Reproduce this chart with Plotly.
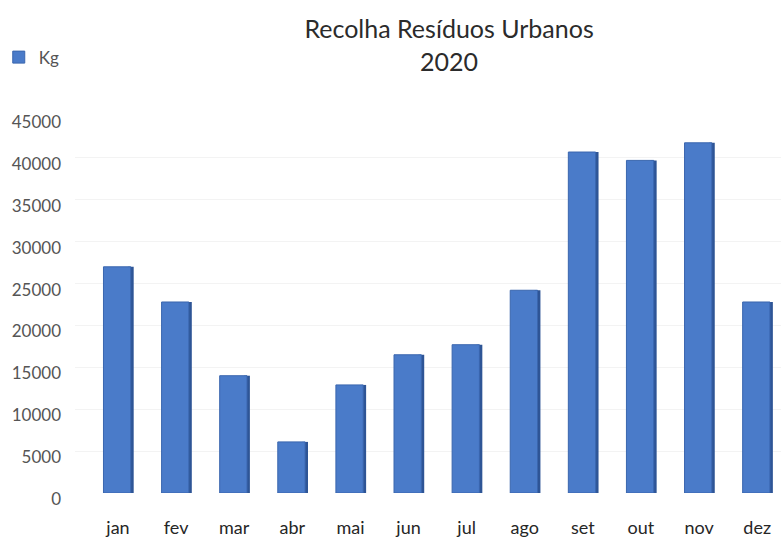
import plotly.graph_objects as go

months = ["jan", "fev", "mar", "abr", "mai", "jun", "jul", "ago", "set", "out", "nov", "dez"]
kg = [27000, 22800, 14000, 6100, 12900, 16500, 17700, 24200, 40700, 39700, 41800, 22800]
y_ticks = [0, 5000, 10000, 15000, 20000, 25000, 30000, 35000, 40000, 45000]
y_tick_text = [str(v) for v in y_ticks]

fig = go.Figure()
# darker side face (3D look)
fig.add_trace(go.Bar(
    x=months, y=kg, name="Kg", showlegend=False,
    width=0.1, offset=0.17,
    marker=dict(color="#2E5596", line=dict(width=0)),
))
# front face
fig.add_trace(go.Bar(
    x=months, y=kg, name="Kg",
    width=0.47, offset=-0.25,
    marker=dict(color="#4A7BC9", line=dict(color="#3A66AE", width=1)),
))

fig.update_layout(
    width=781, height=540,
    margin=dict(l=75, r=0, t=116, b=47, autoexpand=False),
    paper_bgcolor="white", plot_bgcolor="white",
    font=dict(family="Lato, Open Sans, sans-serif", color="#404040"),
    barmode="overlay",
    title=dict(
        text="Recolha Resíduos Urbanos<br>2020",
        xref="container", x=0.575, xanchor="center",
        yref="container", y=1 - 38 / 540, yanchor="middle",
        font=dict(size=25, color="#2b2b2b"),
    ),
    showlegend=True,
    legend=dict(
        x=-0.108, y=1.155, xanchor="left", yanchor="middle",
        font=dict(size=17, color="#555555"),
        bgcolor="rgba(0,0,0,0)", itemwidth=30,
    ),
    xaxis=dict(
        range=[-0.74, 11.41], showgrid=False, showline=False, zeroline=False,
        tickfont=dict(size=18, color="#262626"), ticks="", ticklabelstandoff=22,
        automargin=False,
    ),
    yaxis=dict(
        range=[0, 45000], tickvals=y_ticks, ticktext=y_tick_text,
        showgrid=True, gridcolor="#F3F3F3", gridwidth=1,
        zeroline=False, showline=False,
        tickfont=dict(size=17, color="#555555"), ticks="",
        ticklabelshift=6, ticklabelstandoff=13,
        automargin=False,
    ),
)

fig.write_html(
    "out.html",
    config={"displayModeBar": False},
    post_script="document.body.style.margin='0';",
)
